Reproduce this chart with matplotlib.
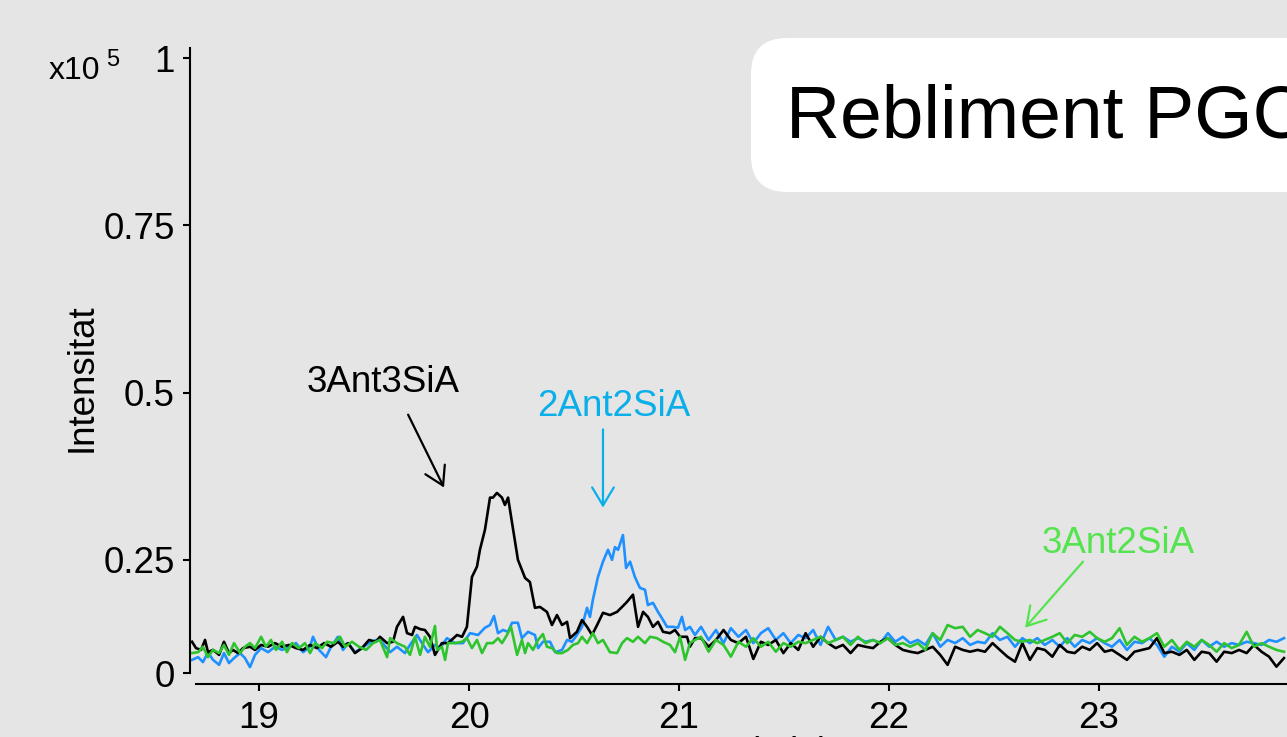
import numpy as np
import matplotlib
matplotlib.use("Agg")
import matplotlib.pyplot as plt
from matplotlib.patches import FancyBboxPatch
from matplotlib.transforms import IdentityTransform

plt.rcParams['font.family'] = ['Liberation Sans', 'DejaVu Sans']

# retention time (min) and intensity (x10^5)
# right part of the run shares one scan grid for the three traces
t_right = [21.105, 21.141, 21.176, 21.212, 21.247, 21.283, 21.319, 21.354, 21.390, 21.425,
           21.461, 21.497, 21.532, 21.568, 21.603, 21.639, 21.674, 21.710, 21.746, 21.781,
           21.817, 21.852, 21.888, 21.924, 21.959, 21.995, 22.030, 22.066, 22.101, 22.137,
           22.173, 22.208, 22.244, 22.279, 22.315, 22.351, 22.386, 22.422, 22.457, 22.493,
           22.528, 22.564, 22.600, 22.635, 22.671, 22.706, 22.742, 22.778, 22.813, 22.849,
           22.884, 22.920, 22.956, 22.991, 23.027, 23.062, 23.098, 23.133, 23.169, 23.205,
           23.240, 23.276, 23.311, 23.347, 23.383, 23.418, 23.454, 23.489, 23.525, 23.560,
           23.596, 23.632, 23.667, 23.703, 23.738, 23.774, 23.810, 23.845, 23.881]

# 3Ant3SiA (black)
black_t = [18.681, 18.700, 18.724, 18.743, 18.757, 18.781, 18.810, 18.833, 18.857, 18.876,
           18.900, 18.924, 18.957, 18.981, 19.010, 19.043, 19.076, 19.110, 19.143, 19.176,
           19.210, 19.243, 19.276, 19.310, 19.343, 19.376, 19.400, 19.424, 19.457, 19.490,
           19.524, 19.557,
           19.576, 19.610, 19.638, 19.657, 19.686, 19.705, 19.729, 19.743, 19.767, 19.790,
           19.814, 19.838, 19.871, 19.900, 19.943, 19.967, 19.990, 20.014, 20.038, 20.052,
           20.076, 20.100, 20.114, 20.133, 20.157, 20.171, 20.186, 20.210, 20.233, 20.267,
           20.290, 20.314, 20.338, 20.371, 20.395, 20.419, 20.443, 20.467, 20.481, 20.514,
           20.538, 20.562, 20.586, 20.610, 20.638, 20.671, 20.705, 20.729, 20.752, 20.781,
           20.805, 20.829, 20.852, 20.876, 20.900, 20.924, 20.957, 20.981, 21.005, 21.038,
           21.052, 21.076] + t_right
black_i = [0.069, 0.055, 0.051, 0.073, 0.046, 0.051, 0.040, 0.069, 0.044, 0.051,
           0.044, 0.055, 0.058, 0.051, 0.062, 0.058, 0.066, 0.058, 0.062, 0.055,
           0.051, 0.062, 0.055, 0.066, 0.058, 0.069, 0.058, 0.066, 0.044, 0.055,
           0.073, 0.069,
           0.080, 0.066, 0.069, 0.102, 0.124, 0.088, 0.084, 0.102, 0.097, 0.095,
           0.080, 0.040, 0.066, 0.066, 0.084, 0.080, 0.102, 0.212, 0.235, 0.265,
           0.295, 0.343, 0.343, 0.350, 0.343, 0.332, 0.343, 0.295, 0.250, 0.210,
           0.201, 0.144, 0.146, 0.135, 0.106, 0.128, 0.106, 0.113, 0.077, 0.091,
           0.117, 0.102, 0.084, 0.106, 0.133, 0.128, 0.135, 0.146, 0.157, 0.173,
           0.102, 0.135, 0.124, 0.102, 0.113, 0.091, 0.088, 0.095, 0.080, 0.080,
           0.058, 0.077,
           0.077, 0.058, 0.073, 0.095, 0.073, 0.066, 0.080, 0.031, 0.069, 0.062,
           0.073, 0.044, 0.066, 0.051, 0.088, 0.058, 0.080, 0.066, 0.055, 0.062,
           0.044, 0.062, 0.058, 0.055, 0.069, 0.077, 0.062, 0.051, 0.047, 0.044,
           0.051, 0.058, 0.040, 0.018, 0.058, 0.051, 0.047, 0.051, 0.047, 0.066,
           0.051, 0.036, 0.025, 0.066, 0.029, 0.055, 0.051, 0.036, 0.062, 0.047,
           0.044, 0.058, 0.051, 0.066, 0.047, 0.051, 0.040, 0.029, 0.047, 0.051,
           0.055, 0.077, 0.044, 0.047, 0.040, 0.051, 0.029, 0.047, 0.044, 0.025,
           0.047, 0.044, 0.051, 0.044, 0.062, 0.047, 0.036, 0.014, 0.033]

# 2Ant2SiA (blue)
blue_t = [18.681, 18.710, 18.733, 18.757, 18.781, 18.810, 18.833, 18.857, 18.881, 18.910,
          18.933, 18.957, 18.981, 19.010, 19.043, 19.076, 19.110, 19.143, 19.176, 19.210,
          19.243, 19.257, 19.286, 19.319, 19.343, 19.376, 19.400, 19.424, 19.457, 19.490,
          19.524, 19.557,
          19.576, 19.624, 19.657, 19.695, 19.719, 19.752, 19.776, 19.805, 19.838, 19.862,
          19.895, 19.933, 19.971, 20.005, 20.043, 20.076, 20.100, 20.119, 20.138, 20.162,
          20.186, 20.205, 20.233, 20.252, 20.281, 20.314, 20.329, 20.352, 20.386, 20.410,
          20.443, 20.467, 20.490, 20.514, 20.538, 20.562, 20.576, 20.590, 20.614, 20.638,
          20.662, 20.681, 20.695, 20.710, 20.733, 20.748, 20.767, 20.790, 20.814, 20.838,
          20.852, 20.876, 20.900, 20.924, 20.943, 20.971, 20.995, 21.014, 21.029, 21.052,
          21.076] + t_right
blue_i = [0.029, 0.035, 0.024, 0.046, 0.029, 0.018, 0.044, 0.022, 0.033, 0.044,
          0.033, 0.013, 0.040, 0.055, 0.046, 0.058, 0.051, 0.058, 0.066, 0.046,
          0.058, 0.080, 0.051, 0.035, 0.058, 0.080, 0.051, 0.066, 0.046, 0.055,
          0.066, 0.073,
          0.073, 0.046, 0.058, 0.044, 0.062, 0.084, 0.066, 0.046, 0.062, 0.055,
          0.077, 0.066, 0.066, 0.088, 0.084, 0.100, 0.106, 0.126, 0.088, 0.095,
          0.091, 0.111, 0.111, 0.077, 0.091, 0.084, 0.055, 0.069, 0.069, 0.046,
          0.051, 0.073, 0.069, 0.084, 0.102, 0.144, 0.124, 0.162, 0.212, 0.246,
          0.265, 0.250, 0.269, 0.265, 0.287, 0.232, 0.246, 0.212, 0.188, 0.184,
          0.150, 0.155, 0.135, 0.117, 0.102, 0.102, 0.100, 0.124, 0.095, 0.102,
          0.084,
          0.102, 0.073, 0.095, 0.066, 0.099, 0.080, 0.095, 0.066, 0.088, 0.099,
          0.073, 0.088, 0.066, 0.084, 0.077, 0.095, 0.062, 0.102, 0.073, 0.080,
          0.069, 0.077, 0.069, 0.073, 0.066, 0.088, 0.069, 0.080, 0.066, 0.073,
          0.062, 0.088, 0.058, 0.073, 0.066, 0.077, 0.062, 0.069, 0.066, 0.088,
          0.073, 0.080, 0.058, 0.077, 0.066, 0.077, 0.062, 0.073, 0.058, 0.077,
          0.058, 0.073, 0.066, 0.077, 0.066, 0.058, 0.073, 0.051, 0.069, 0.066,
          0.077, 0.062, 0.036, 0.058, 0.047, 0.066, 0.051, 0.073, 0.058, 0.069,
          0.058, 0.066, 0.062, 0.069, 0.066, 0.062, 0.073, 0.069, 0.077]

# 3Ant2SiA (green)
green_t = [18.681, 18.710, 18.733, 18.757, 18.781, 18.810, 18.833, 18.857, 18.881, 18.910,
           18.933, 18.957, 18.981, 19.010, 19.033, 19.057, 19.081, 19.110, 19.133, 19.157,
           19.190, 19.219, 19.243, 19.267, 19.300, 19.324, 19.357, 19.386, 19.410, 19.443,
           19.476, 19.510, 19.543,
           19.576, 19.610, 19.624, 19.657, 19.695, 19.719, 19.743, 19.767, 19.790, 19.814,
           19.838, 19.848, 19.871, 19.886, 19.900, 19.933, 19.967, 19.990, 20.014, 20.038,
           20.062, 20.086, 20.114, 20.138, 20.157, 20.181, 20.200, 20.229, 20.252, 20.267,
           20.281, 20.305, 20.329, 20.352, 20.371, 20.395, 20.419, 20.443, 20.471, 20.495,
           20.519, 20.538, 20.562, 20.590, 20.614, 20.638, 20.671, 20.705, 20.729, 20.752,
           20.781, 20.805, 20.838, 20.862, 20.895, 20.924, 20.957, 20.981, 21.005, 21.029,
           21.052, 21.076] + t_right
green_i = [0.044, 0.046, 0.058, 0.035, 0.051, 0.044, 0.062, 0.040, 0.066, 0.044,
           0.058, 0.066, 0.055, 0.080, 0.058, 0.073, 0.051, 0.069, 0.046, 0.066,
           0.055, 0.066, 0.044, 0.066, 0.055, 0.069, 0.066, 0.080, 0.058, 0.069,
           0.058, 0.051, 0.066,
           0.073, 0.035, 0.077, 0.066, 0.058, 0.040, 0.080, 0.040, 0.080, 0.058,
           0.104, 0.051, 0.058, 0.029, 0.066, 0.066, 0.069, 0.077, 0.055, 0.073,
           0.044, 0.066, 0.066, 0.077, 0.066, 0.084, 0.102, 0.040, 0.073, 0.044,
           0.066, 0.051, 0.073, 0.086, 0.058, 0.055, 0.044, 0.044, 0.051, 0.062,
           0.066, 0.080, 0.066, 0.088, 0.066, 0.073, 0.046, 0.044, 0.066, 0.077,
           0.069, 0.080, 0.066, 0.080, 0.077, 0.069, 0.062, 0.046, 0.080, 0.029,
           0.066, 0.073,
           0.080, 0.047, 0.073, 0.062, 0.036, 0.069, 0.058, 0.077, 0.058, 0.069,
           0.047, 0.066, 0.058, 0.069, 0.066, 0.073, 0.080, 0.066, 0.073, 0.080,
           0.062, 0.080, 0.066, 0.073, 0.066, 0.077, 0.062, 0.066, 0.058, 0.066,
           0.051, 0.088, 0.073, 0.106, 0.099, 0.102, 0.080, 0.095, 0.088, 0.080,
           0.102, 0.088, 0.073, 0.069, 0.073, 0.066, 0.073, 0.080, 0.088, 0.066,
           0.084, 0.080, 0.091, 0.077, 0.069, 0.077, 0.099, 0.062, 0.080, 0.069,
           0.077, 0.088, 0.058, 0.073, 0.051, 0.069, 0.058, 0.073, 0.062, 0.047,
           0.066, 0.055, 0.062, 0.091, 0.058, 0.066, 0.058, 0.051, 0.047]

y_ticks = [0, 0.25, 0.5, 0.75, 1]
y_ticklabels = ['0', '0.25', '0.5', '0.75', '1']
x_ticks = [19, 20, 21, 22, 23]

bg = '#E5E5E5'
c_black = 'black'
c_blue = '#1E90FF'
c_green = '#2EC42E'
c_blue_txt = '#0AAFEA'
c_green_txt = '#55E34F'

# the lowest quarter of the y axis is drawn squeezed in the original
K = 0.6766


def fwd(v):
    v = np.asarray(v, dtype=float)
    return np.where(v < 0.25, v * K, v - 0.25 + 0.25 * K)


def inv(u):
    u = np.asarray(u, dtype=float)
    return np.where(u < 0.25 * K, u / K, u + 0.25 - 0.25 * K)


fig = plt.figure(figsize=(12.87, 7.37), dpi=100, facecolor=bg)
ax = fig.add_axes([0.14763, 0.07191, 0.85237, 0.86296])
ax.set_facecolor(bg)
ax.set_yscale('function', functions=(fwd, inv))

ax.plot(blue_t, blue_i, color=c_blue, lw=1.9)
ax.plot(black_t, black_i, color=c_black, lw=1.9)
ax.plot(green_t, green_i, color=c_green, lw=1.9)

ax.set_xlim(18.6714, 23.8953)
ax.set_ylim(-0.0243, 1.015)

for s in ['top', 'right']:
    ax.spines[s].set_visible(False)
ax.spines['left'].set_bounds(0, 1.015)
ax.spines['bottom'].set_bounds(18.70, 23.8953)
for s in ['left', 'bottom']:
    ax.spines[s].set_linewidth(1.5)

ax.set_xticks(x_ticks)
ax.set_xticklabels([str(v) for v in x_ticks])
ax.set_yticks(y_ticks)
ax.set_yticklabels(y_ticklabels)
ax.tick_params(axis='both', direction='out', length=5, width=1.5, labelsize=26.5)
ax.tick_params(axis='x', pad=7)
ax.tick_params(axis='y', pad=5.8)

ax.set_ylabel('Intensitat', fontsize=26.5)
ax.yaxis.label.set_va('center')
ax.yaxis.set_label_coords(-0.0985, 0.481)
ax.set_xlabel('Temps (min)', fontsize=26.5)
ax.xaxis.set_label_coords(0.492, -0.081)

# peak labels and arrows
ax.text(19.590, 0.515, '3Ant3SiA', fontsize=26.5, color=c_black, ha='center', va='center')
ax.annotate('', xy=(19.881, 0.358), xytext=(19.710, 0.467),
            arrowprops=dict(arrowstyle='->,head_length=0.5,head_width=0.3', color=c_black,
                            lw=1.6, shrinkA=0, shrinkB=0, mutation_scale=26))
ax.text(20.690, 0.479, '2Ant2SiA', fontsize=26.5, color=c_blue_txt, ha='center', va='center')
ax.annotate('', xy=(20.638, 0.328), xytext=(20.638, 0.445),
            arrowprops=dict(arrowstyle='->,head_length=0.5,head_width=0.3', color=c_blue_txt,
                            lw=1.6, shrinkA=0, shrinkB=0, mutation_scale=26))
ax.text(23.090, 0.275, '3Ant2SiA', fontsize=26.5, color=c_green_txt, ha='center', va='center')
ax.annotate('', xy=(22.648, 0.100), xytext=(22.924, 0.246),
            arrowprops=dict(arrowstyle='->,head_length=0.5,head_width=0.3', color=c_green_txt,
                            lw=1.6, shrinkA=0, shrinkB=0, mutation_scale=26))

# scale factor of the intensity axis
fig.text(49 / 1287, 1 - 79 / 737, 'x10', fontsize=23, va='baseline', ha='left')
fig.text(106 / 1287, 1 - 66 / 737, '5', fontsize=17, va='baseline', ha='left')

# title panel, cut by the right edge as in the original
box = FancyBboxPatch((751, 737 - 192), 800, 154, boxstyle='round,pad=0,rounding_size=36',
                     transform=IdentityTransform(), facecolor='white', edgecolor='none')
fig.add_artist(box)
fig.text(786 / 1287, 599 / 737, 'Rebliment PGC', fontsize=54, ha='left', va='baseline')

fig.savefig('out.png', dpi=100, facecolor=bg)
